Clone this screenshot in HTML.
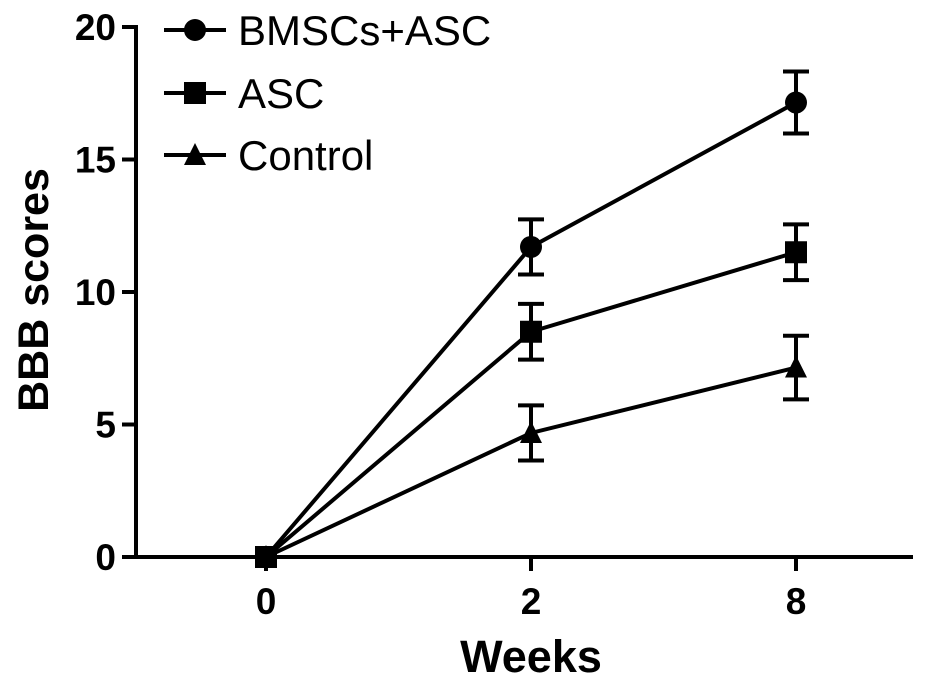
<!DOCTYPE html>
<html><head><meta charset="utf-8"><style>
html,body{margin:0;padding:0;background:#fff;}
svg{display:block;font-family:"Liberation Sans",Arial,sans-serif;}
</style></head><body>
<svg id="chart" width="945" height="685" viewBox="0 0 945 685" xmlns="http://www.w3.org/2000/svg">
<g id="axes"></g>
<g id="series"></g>
<g id="legend"></g>
<text x="0" y="0" transform="translate(48,290) rotate(-90)" text-anchor="middle" font-size="43" font-weight="bold">BBB scores</text>
<text x="531" y="672" text-anchor="middle" font-size="45" font-weight="bold">Weeks</text>
</svg>
<script>
const categories = ["0","2","8"];
const seriesNames = ["BMSCs+ASC","ASC","Control"];
const bmscValues = [0, 11.7, 17.15];
const bmscErrors = [0, 1.04, 1.17];
const ascValues = [0, 8.5, 11.5];
const ascErrors = [0, 1.05, 1.05];
const controlValues = [0, 4.68, 7.15];
const controlErrors = [0, 1.04, 1.2];
const yTicks = [0,5,10,15,20];

const NS="http://www.w3.org/2000/svg";
function y(v){return 557 - v*26.5;}
function x(i){return 266 + i*265;}
function mk(tag,attrs,parent){const e=document.createElementNS(NS,tag);for(const k in attrs)e.setAttribute(k,attrs[k]);parent.appendChild(e);return e;}
const axes=document.getElementById('axes'), series=document.getElementById('series'), legend=document.getElementById('legend');

let e=mk('line',{x1:136,y1:y(0),x2:913,y2:y(0),stroke:'#000','stroke-width':4},axes);


e=mk('line',{x1:136,y1:y(20)-2,x2:136,y2:y(0)+2,stroke:'#000','stroke-width':4},axes);


yTicks.forEach(t=>{
  let l=mk('line',{x1:122,y1:y(t),x2:136,y2:y(t),stroke:'#000','stroke-width':4},axes);
  
  
  let tx=mk('text',{x:116,y:y(t)+13,'text-anchor':'end','font-size':37,'font-weight':'bold'},axes);
  tx.textContent=t;
  
  
});
categories.forEach((c,i)=>{
  let l=mk('line',{x1:x(i),y1:y(0),x2:x(i),y2:y(0)+14,stroke:'#000','stroke-width':4},axes);
  
  
  let tx=mk('text',{x:x(i),y:y(0)+57,'text-anchor':'middle','font-size':37,'font-weight':'bold'},axes);
  tx.textContent=c;
  
  
});

function marker(type,cx,cy,parent,r){
  let m;
  if(type==='circle') m=mk('circle',{cx:cx,cy:cy,r:r},parent);
  else if(type==='square') m=mk('rect',{x:cx-r,y:cy-r,width:2*r,height:2*r},parent);
  else m=mk('polygon',{points:`${cx},${cy-r-2} ${cx+r+1},${cy+r} ${cx-r-1},${cy+r}`},parent);
  m.setAttribute('fill','#000');
  return m;
}
const all=[[bmscValues,bmscErrors,'circle'],[ascValues,ascErrors,'square'],[controlValues,controlErrors,'triangle']];
all.forEach(([vals,errs,type],si)=>{
  const g=mk('g',{},series);
  
  
  const pl=mk('polyline',{points:vals.map((v,i)=>x(i)+','+y(v)).join(' '),fill:'none',stroke:'#000','stroke-width':4},g);
  
  
  vals.forEach((v,i)=>{
    if(errs[i]>0){
      const eb=mk('path',{d:`M${x(i)},${y(v+errs[i])}V${y(v-errs[i])}M${x(i)-13},${y(v+errs[i])}H${x(i)+13}M${x(i)-13},${y(v-errs[i])}H${x(i)+13}`,stroke:'#000','stroke-width':4,fill:'none'},g);
      
      
    }
    const m=marker(type,x(i),y(v),g,type==='triangle'?10:11);
    
    
  });
});
const ly=[30,93,155];
['circle','square','triangle'].forEach((type,i)=>{
  const g=mk('g',{},legend);
  
  
  mk('line',{x1:164,y1:ly[i],x2:226,y2:ly[i],stroke:'#000','stroke-width':4},g);
  marker(type,195,ly[i],g,type==='triangle'?10:11);
  const t=mk('text',{x:238,y:ly[i]+15,'font-size':42},g);
  t.textContent=seriesNames[i];
});
</script>
</body></html>
